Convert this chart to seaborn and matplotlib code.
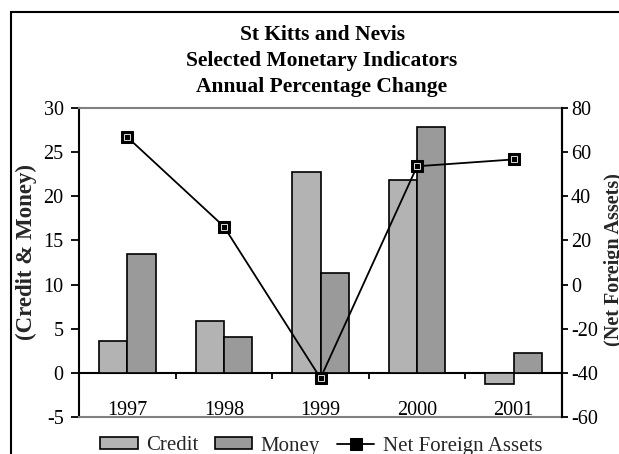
import numpy as np
import pandas as pd
import matplotlib
matplotlib.use("Agg")
import matplotlib.pyplot as plt
from matplotlib.patches import Rectangle
import seaborn as sns

# Annual percentage change, St Kitts and Nevis
years = ["1997", "1998", "1999", "2000", "2001"]
credit = [3.6, 5.9, 22.8, 21.9, -1.3]
money = [13.5, 4.1, 11.3, 27.9, 2.2]
net_foreign_assets = [66.8, 26.3, -42.4, 53.6, 56.7]

left_ticks = [-5, 0, 5, 10, 15, 20, 25, 30]
right_ticks = [-60, -40, -20, 0, 20, 40, 60, 80]

sns.set_theme(style="white")
plt.rcParams["font.family"] = ["Liberation Serif", "DejaVu Serif"]
plt.rcParams["axes.unicode_minus"] = False

W, H = 619, 454
fig = plt.figure(figsize=(W / 100, H / 100), dpi=100)
ax = fig.add_axes([79 / W, 1 - 417 / H, (562 - 79) / W, (417 - 108) / H])

bars = pd.DataFrame({
    "year": years * 2,
    "value": credit + money,
    "series": ["Credit"] * len(years) + ["Money"] * len(years),
})
sns.barplot(data=bars, x="year", y="value", hue="series",
            palette=["#b3b3b3", "#9a9a9a"], width=0.585,
            edgecolor="black", linewidth=1.2, saturation=1,
            ax=ax, legend=True)

ax.set_xlim(-0.5, len(years) - 0.5)
ax.set_ylim(left_ticks[0], left_ticks[-1])
ax.set_yticks(left_ticks)
ax.set_xticks([])
ax.set_xlabel("")
ax.set_ylabel("(Credit & Money)", fontsize=16.5, fontweight="bold")
ax.yaxis.set_label_coords(-0.086, 0.534)
ax.tick_params(axis="y", left=True, direction="out", length=6, width=1.3,
               pad=5, labelsize=14.5, colors="black")

for side in ("left", "right"):
    ax.spines[side].set_color("black")
    ax.spines[side].set_linewidth(1.5)
for side in ("top", "bottom"):
    ax.spines[side].set_color("#808080")
    ax.spines[side].set_linewidth(1.5)

# zero line with category divider ticks
zero_frac = (0 - left_ticks[0]) / (left_ticks[-1] - left_ticks[0])
sec = ax.secondary_xaxis(zero_frac)
sec.set_xticks(np.arange(len(years) - 1) + 0.5)
sec.set_xticklabels([])
sec.tick_params(axis="x", direction="out", length=4.5, width=1.3, colors="black")
sec.spines["bottom"].set_color("black")
sec.spines["bottom"].set_linewidth(1.5)

# year labels sit just above the bottom edge
for i, yr in enumerate(years):
    ax.annotate(yr, xy=(i, left_ticks[0]), xytext=(0, 1.5),
                textcoords="offset points", ha="center", va="baseline",
                fontsize=14.5, color="black", annotation_clip=False)

ax2 = ax.twinx()
sns.lineplot(x=np.arange(len(years)), y=net_foreign_assets, ax=ax2,
             color="black", linewidth=1.3, marker="s", markersize=8,
             markerfacecolor="black", markeredgecolor="black",
             label="Net Foreign Assets", legend=False)
ax2.plot(np.arange(len(years)), net_foreign_assets, linestyle="none",
         marker="s", markersize=4.5, markerfacecolor="none",
         markeredgecolor="white", markeredgewidth=0.6)
ax2.set_ylim(right_ticks[0], right_ticks[-1])
ax2.set_yticks(right_ticks)
ax2.set_ylabel("(Net Foreign Assets)", fontsize=14.5, fontweight="bold",
               rotation=90)
ax2.yaxis.set_label_coords(1.087, 0.508)
ax2.tick_params(axis="y", right=True, direction="out", length=4, width=1.3,
                pad=2.5, labelsize=14.5, colors="black")
ax2.grid(False)
ax.grid(False)
for s in ax2.spines.values():
    s.set_visible(False)
ax2.spines["right"].set_visible(True)
ax2.spines["right"].set_color("black")
ax2.spines["right"].set_linewidth(1.5)

fig.text(322 / W, 1 - 61 / H,
         "St Kitts and Nevis\nSelected Monetary Indicators\nAnnual Percentage Change",
         ha="center", va="center", fontsize=15.5, fontweight="bold",
         linespacing=1.4, color="black")

# legend along the bottom edge
h1, l1 = ax.get_legend_handles_labels()
ax.get_legend().remove()
h2, l2 = ax2.get_legend_handles_labels()
fig.legend(h1 + h2, l1 + l2, loc="center left",
           bbox_to_anchor=(100 / W, 1 - 446 / H), ncol=3, frameon=False,
           fontsize=15, handlelength=1.8, handleheight=0.55,
           handletextpad=0.4, columnspacing=0.8, borderpad=0, borderaxespad=0)

# outer chart frame
fig.patches.append(Rectangle((11 / W, -0.1), 2.0, 1 - 12 / H + 0.1,
                             transform=fig.transFigure, fill=False,
                             edgecolor="black", linewidth=1.5))

fig.savefig("out.png", dpi=100)
